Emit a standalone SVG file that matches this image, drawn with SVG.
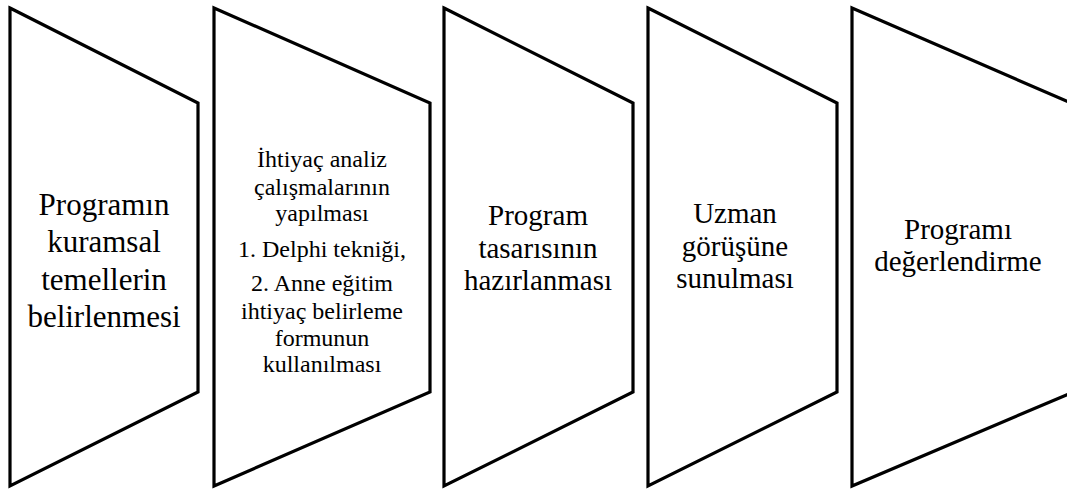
<svg xmlns="http://www.w3.org/2000/svg" width="1067" height="490" viewBox="0 0 1067 490">
<style>
.shape{fill:#fff;stroke:#000;stroke-width:3.2;stroke-linejoin:miter}
.t{font-family:"Liberation Serif","DejaVu Serif",serif;font-size:31px;fill:#000;text-anchor:middle}
.m{font-size:29px}
.s{font-size:24px}
</style>
<rect width="1067" height="490" fill="#fff"/>
<g id="node1">
<polygon class="shape" points="10,8 198,103 198,392 10,486"/>
<text class="t" x="104"><tspan x="104" y="215">Programın</tspan><tspan x="104" y="252">kuramsal</tspan><tspan x="104" y="290">temellerin</tspan><tspan x="104" y="327">belirlenmesi</tspan></text>
</g>
<g id="node2">
<polygon class="shape" points="214,8 430,103 430,392 214,486"/>
<text class="t s" x="322"><tspan x="322" y="167">İhtiyaç analiz</tspan><tspan x="322" y="195">çalışmalarının</tspan><tspan x="322" y="221">yapılması</tspan><tspan x="322" y="257">1. Delphi tekniği,</tspan><tspan x="322" y="291">2. Anne eğitim</tspan><tspan x="322" y="319">ihtiyaç belirleme</tspan><tspan x="322" y="346">formunun</tspan><tspan x="322" y="372">kullanılması</tspan></text>
</g>
<g id="node3">
<polygon class="shape" points="444,8 633,103 633,392 444,486"/>
<text class="t m" x="538"><tspan x="538" y="225">Program</tspan><tspan x="538" y="257.5">tasarısının</tspan><tspan x="538" y="290">hazırlanması</tspan></text>
</g>
<g id="node4">
<polygon class="shape" points="648,8 837,103 837,392 648,486"/>
<text class="t m" x="735"><tspan x="735" y="223">Uzman</tspan><tspan x="735" y="255.5">görüşüne</tspan><tspan x="735" y="288">sunulması</tspan></text>
</g>
<g id="node5">
<polygon class="shape" points="852,8 1071,103 1071,393 852,486"/>
<text class="t m" x="958"><tspan x="958" y="238.5">Programı</tspan><tspan x="958" y="271">değerlendirme</tspan></text>
</g>
<g id="connectors"></g>
</svg>
